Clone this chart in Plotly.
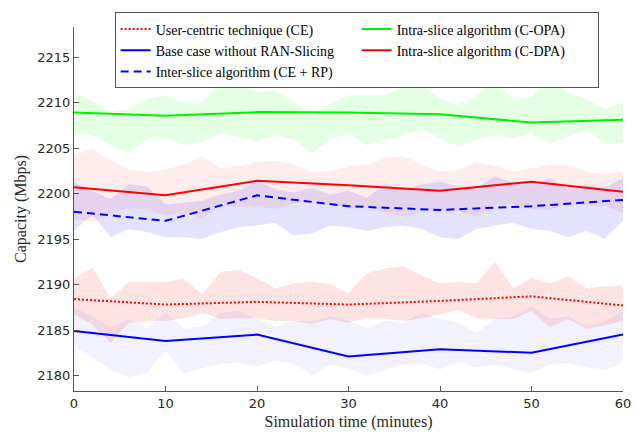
import plotly.graph_objects as go

# ---- data ----
t_line = [0, 10, 20, 30, 40, 50, 60]
ce_line = [2188.4, 2187.8, 2188.1, 2187.8, 2188.2, 2188.7, 2187.7]
base_line = [2184.9, 2183.8, 2184.5, 2182.1, 2182.9, 2182.5, 2184.5]
inter_line = [2198.0, 2197.0, 2199.8, 2198.6, 2198.2, 2198.6, 2199.3]
copa_line = [2208.9, 2208.55, 2208.95, 2208.9, 2208.7, 2207.8, 2208.1]
cdpa_line = [2200.7, 2199.8, 2201.4, 2200.9, 2200.3, 2201.3, 2200.2]

t_band = list(range(0, 61, 2))

copa_hi = [2211.1, 2210.2, 2209.0, 2209.3, 2210.4, 2210.8, 2210.0, 2210.0, 2212.2, 2212.2, 2211.1,
           2211.3, 2210.2, 2208.6, 2209.9, 2210.8, 2210.8, 2210.8, 2211.7, 2211.9, 2210.4,
           2209.7, 2210.8, 2212.4, 2210.4, 2210.6, 2212.5, 2211.1, 2210.4, 2209.3, 2210.0]
copa_lo = [2206.6, 2206.4, 2205.3, 2204.4, 2206.1, 2206.2, 2205.3, 2205.7, 2206.6, 2206.2, 2205.7,
           2206.4, 2205.9, 2204.4, 2205.9, 2206.6, 2205.3, 2205.9, 2206.4, 2207.1, 2206.1,
           2205.2, 2205.9, 2206.4, 2206.1, 2206.6, 2205.5, 2206.2, 2207.0, 2205.5, 2205.5]

cdpa_hi = [2204.4, 2204.8, 2203.7, 2202.6, 2202.4, 2202.6, 2203.2, 2204.1, 2202.8, 2203.0, 2203.5,
           2203.6, 2203.2, 2202.4, 2202.5, 2203.0, 2203.2, 2203.9, 2204.1, 2203.2, 2202.4,
           2202.6, 2203.5, 2203.0, 2202.4, 2202.8, 2203.2, 2203.2, 2202.4, 2202.1, 2202.5]
cdpa_lo = [2197.2, 2196.9, 2197.8, 2198.4, 2198.2, 2197.6, 2197.9, 2197.3, 2198.6, 2198.5, 2198.6,
           2198.3, 2198.9, 2199.2, 2198.8, 2198.4, 2198.6, 2197.9, 2197.5, 2198.0, 2198.2,
           2198.1, 2197.4, 2198.7, 2198.9, 2198.3, 2198.2, 2198.9, 2198.7, 2198.6, 2197.9]

inter_hi = [2201.2, 2200.3, 2199.4, 2201.0, 2200.8, 2198.8, 2199.0, 2199.2, 2199.9, 2200.3, 2201.4,
            2200.45, 2200.1, 2200.6, 2199.9, 2200.3, 2199.55, 2201.0, 2200.45, 2201.0, 2201.3,
            2200.8, 2200.6, 2201.9, 2201.2, 2201.0, 2201.7, 2200.45, 2201.0, 2200.6, 2201.7]
inter_lo = [2195.9, 2197.7, 2195.2, 2196.1, 2195.75, 2195.2, 2195.2, 2195.0, 2195.75, 2196.3, 2196.5,
            2196.8, 2195.4, 2195.6, 2196.5, 2196.3, 2195.9, 2196.3, 2196.5, 2196.1, 2195.2,
            2195.0, 2196.1, 2196.5, 2196.8, 2196.1, 2195.9, 2195.2, 2195.9, 2195.0, 2197.0]

ce_hi = [2190.6, 2191.9, 2188.5, 2190.3, 2190.3, 2190.3, 2190.6, 2188.9, 2191.4, 2191.6, 2190.7,
         2189.6, 2190.1, 2190.3, 2190.0, 2189.1, 2191.2, 2191.8, 2192.0, 2191.0, 2190.1,
         2190.3, 2190.1, 2192.5, 2189.6, 2190.7, 2190.1, 2190.9, 2189.6, 2189.8, 2189.8]
ce_lo = [2186.7, 2185.6, 2183.6, 2185.8, 2186.0, 2186.0, 2186.3, 2186.9, 2186.2, 2186.3, 2186.3,
         2186.0, 2186.0, 2185.7, 2186.2, 2185.8, 2186.3, 2186.2, 2186.0, 2186.3, 2186.7,
         2187.2, 2186.3, 2186.2, 2186.2, 2187.1, 2185.3, 2186.2, 2185.1, 2185.5, 2186.0]

base_hi = [2187.5, 2186.5, 2185.3, 2186.2, 2185.2, 2186.9, 2185.1, 2185.4, 2186.9, 2187.1, 2186.2,
           2185.4, 2186.0, 2186.0, 2186.5, 2186.0, 2185.2, 2186.0, 2185.8, 2186.9, 2186.2,
           2185.8, 2184.7, 2186.2, 2186.5, 2187.6, 2186.2, 2186.5, 2185.4, 2186.0, 2187.1]
base_lo = [2183.2, 2182.0, 2180.6, 2179.8, 2180.3, 2182.8, 2180.2, 2180.8, 2181.3, 2181.4, 2181.0,
           2181.6, 2181.4, 2180.0, 2181.2, 2180.8, 2180.0, 2180.6, 2181.3, 2181.3, 2180.7,
           2181.5, 2180.9, 2181.2, 2180.7, 2180.3, 2181.2, 2181.4, 2180.9, 2180.6, 2181.5]

x_ticks = [0, 10, 20, 30, 40, 50, 60]
y_ticks = [2180, 2185, 2190, 2195, 2200, 2205, 2210, 2215]

SERIF = "'Liberation Serif', 'Times New Roman', 'DejaVu Serif', serif"

fig = go.Figure()


def band(hi, lo, color):
    fig.add_trace(go.Scatter(
        x=t_band + t_band[::-1], y=hi + lo[::-1], fill="toself", fillcolor=color,
        mode="lines", line=dict(width=0), hoverinfo="skip", showlegend=False))


band(copa_hi, copa_lo, "rgba(0,255,0,0.10)")
band(cdpa_hi, cdpa_lo, "rgba(255,0,0,0.07)")
band(inter_hi, inter_lo, "rgba(0,0,255,0.11)")
band(ce_hi, ce_lo, "rgba(255,0,0,0.11)")
band(base_hi, base_lo, "rgba(0,0,255,0.055)")

# legend order (row-wise): CE, C-OPA, Base, C-DPA, Inter
fig.add_trace(go.Scatter(x=t_line, y=ce_line, mode="lines", name="User-centric technique (CE)",
                         line=dict(color="#ff0000", width=2, dash="2px,2px")))
fig.add_trace(go.Scatter(x=t_line, y=copa_line, mode="lines", name="Intra-slice algorithm (C-OPA)",
                         line=dict(color="#00f000", width=2)))
fig.add_trace(go.Scatter(x=t_line, y=base_line, mode="lines", name="Base case without RAN-Slicing",
                         line=dict(color="#0000ff", width=2)))
fig.add_trace(go.Scatter(x=t_line, y=cdpa_line, mode="lines", name="Intra-slice algorithm (C-DPA)",
                         line=dict(color="#ff0000", width=2)))
fig.add_trace(go.Scatter(x=t_line, y=inter_line, mode="lines", name="Inter-slice algorithm (CE + RP)",
                         line=dict(color="#0000ff", width=2, dash="8px,5px")))

axis_common = dict(showgrid=False, zeroline=False, showline=True, linecolor="#555555", linewidth=1,
                   ticks="inside", ticklen=5, tickcolor="#555555", automargin=False,
                   tickfont=dict(family="DejaVu Sans", size=13, color="#262626"))

fig.update_layout(
    width=642, height=432,
    margin=dict(l=74, r=19, t=23, b=41),
    paper_bgcolor="white", plot_bgcolor="white",
    xaxis=dict(range=[0, 60], tickvals=x_ticks,
               title=dict(text="Simulation time (minutes)", standoff=6,
                          font=dict(family=SERIF, size=16, color="#262626")),
               **axis_common),
    yaxis=dict(range=[2178.3, 2218.3], tickvals=y_ticks,
               title=dict(text="Capacity (Mbps)", standoff=6,
                          font=dict(family=SERIF, size=16, color="#262626")),
               **axis_common),
    legend=dict(orientation="h", x=0.074, y=1.04, xanchor="left", yanchor="top",
                entrywidth=196, entrywidthmode="pixels",
                bgcolor="white", bordercolor="#555555", borderwidth=1,
                font=dict(family=SERIF, size=14, color="#000000"),
                traceorder="normal"),
    showlegend=True,
)

fig.write_html("out.html")
